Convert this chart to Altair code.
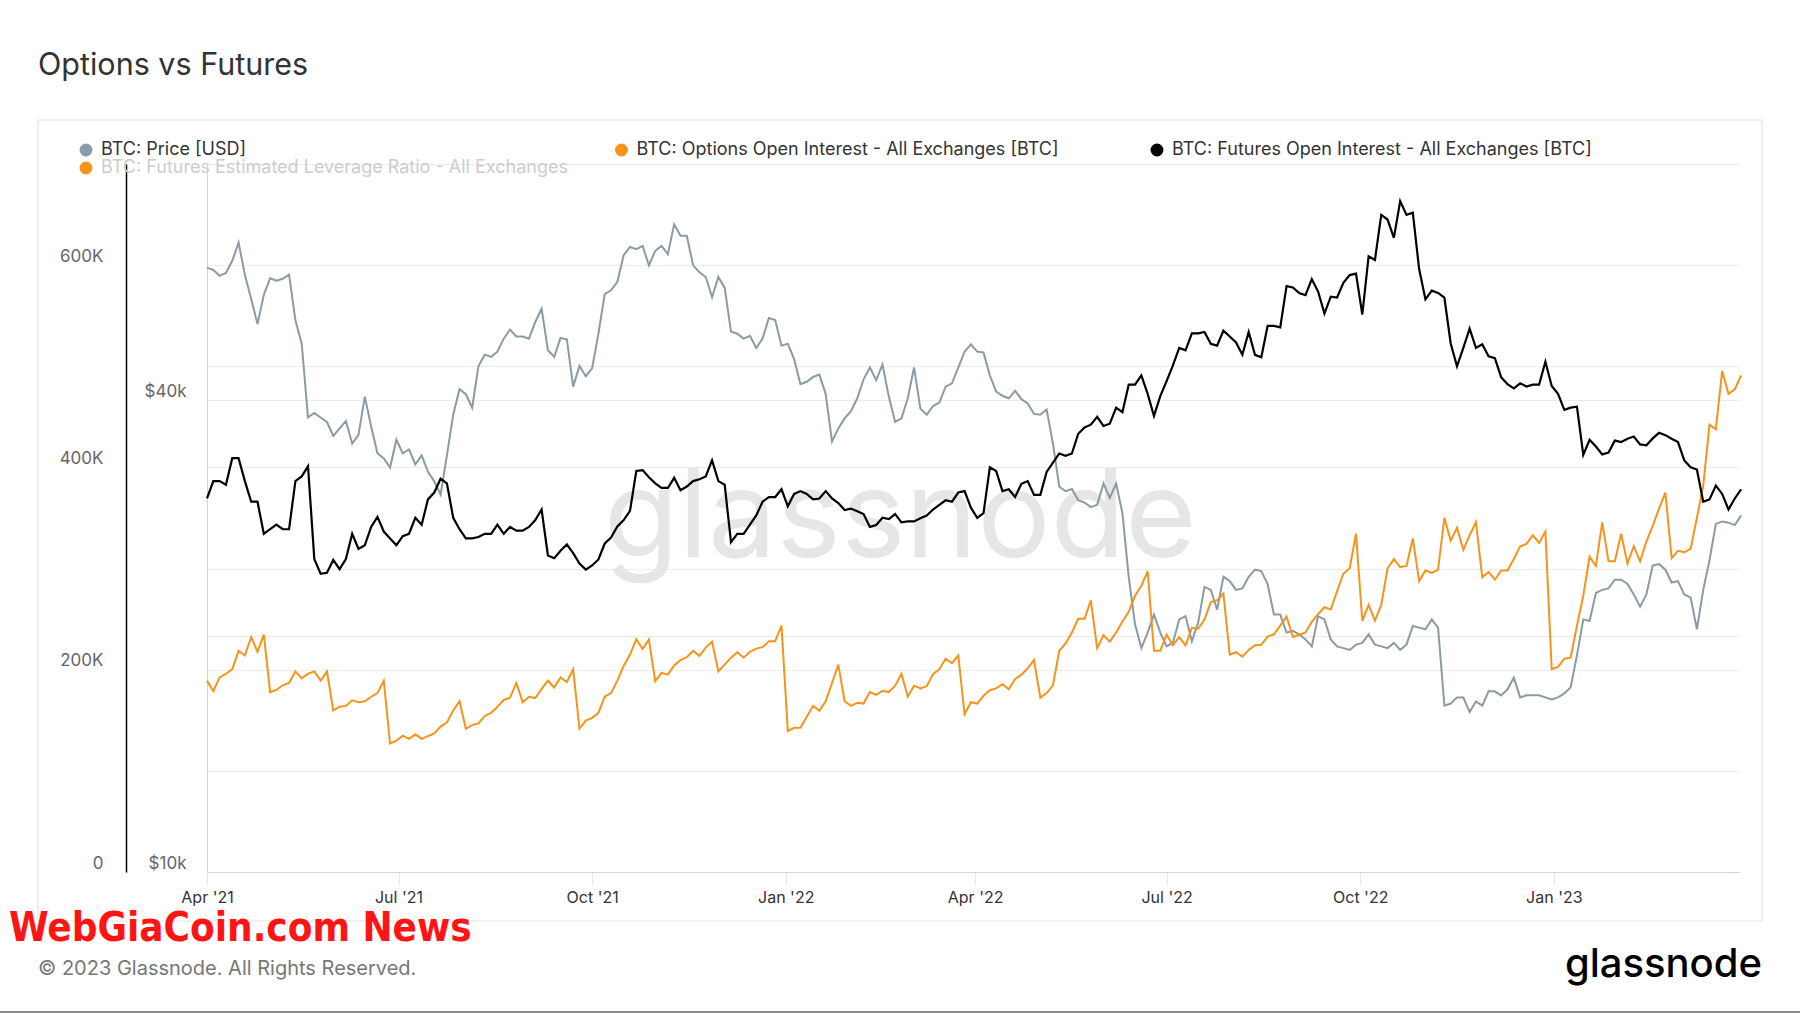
import altair as alt
import pandas as pd

# ---------------- data (one value every 3 days from 2021-04-01) -------------
START_DATE = "2021-04-01"
STEP = "3D"

# BTC price, thousands of USD
price_usd_k = [
    59.0, 58.6, 57.6, 58.1, 60.2, 63.5, 57.8, 53.8, 50.0, 54.5, 57.2, 56.8, 57.1, 57.8, 50.6, 47.2,
    38.0, 38.5, 38.0, 37.5, 36.0, 36.8, 37.6, 35.2, 36.1, 40.4, 37.0, 34.2, 33.7, 32.8, 35.6, 34.2,
    34.6, 33.1, 34.0, 32.4, 31.5, 30.3, 34.0, 38.3, 41.3, 40.7, 39.1, 44.2, 45.7, 45.4, 46.1, 47.9,
    49.2, 48.2, 48.2, 47.9,
    50.3, 52.3, 46.3, 45.4, 48.0, 47.8, 41.6, 44.2, 42.9, 43.9, 48.6, 54.6, 55.2, 56.6, 61.2, 62.7,
    62.3, 62.9, 59.4, 62.0, 62.9, 61.4, 67.0, 64.8, 64.8, 59.4, 58.2, 57.4, 54.1, 57.4, 55.6, 48.9,
    48.6, 47.9, 48.3, 46.6, 47.9, 50.9, 50.6, 46.9, 47.2, 45.1, 41.9, 42.2, 42.8, 43.1, 40.7, 35.4,
    36.8,
    37.9, 38.7, 40.2, 42.5, 44.0, 42.4, 44.4, 40.4, 37.5, 37.9, 40.2, 44.0, 39.0, 38.3, 39.3, 39.7,
    41.6, 42.0, 44.0, 46.1, 47.1, 46.1, 46.0, 43.0, 41.0, 40.5, 40.2, 41.1, 40.1, 39.6, 38.4, 38.3,
    38.9, 35.2, 31.0, 30.6, 30.8, 29.8, 29.6, 29.2, 29.4, 31.3, 30.0, 31.3, 28.7, 23.8, 20.7, 19.3,
    20.2,
    21.3, 20.2, 19.4, 19.6, 21.0, 21.2, 19.7, 20.8, 23.1, 22.9, 21.6, 23.8, 23.5, 22.9, 23.0, 23.8,
    24.3, 24.2, 23.3, 21.3, 21.3, 20.2, 20.3, 20.1, 19.8, 19.4, 21.2, 21.0, 19.8, 19.4, 19.3, 19.2,
    19.5, 19.6, 20.1, 19.5, 19.4, 19.3, 19.6, 19.2, 19.5, 20.6, 20.5, 20.4, 21.0, 20.5, 16.3, 16.4,
    16.7,
    16.7, 16.0, 16.5, 16.3, 17.0, 17.0, 16.8, 17.1, 17.7, 16.7, 16.8, 16.8, 16.8, 16.7, 16.6, 16.7,
    16.9, 17.2, 18.9, 21.0, 20.9, 22.7, 22.9, 23.0, 23.6, 23.6, 23.3, 22.6, 21.8, 22.6, 24.6, 24.7,
    24.3, 23.4, 23.5, 22.6, 22.4, 20.4, 22.9, 25.0, 27.8, 28.0, 27.9, 27.7, 28.5,
]

# Options open interest, thousands of BTC
options_oi_k = [
    189.2, 178.8, 192.4, 196.0, 200.5, 218.7, 214.1, 232.3, 217.8, 234.6, 177.9, 180.1, 184.6, 186.9, 198.3, 191.5,
    196.0, 198.3, 189.2, 198.3, 159.7, 163.3, 164.2, 169.7, 167.9, 168.8, 173.3, 176.9, 189.2, 127.0, 129.8, 134.8,
    131.6, 136.1, 131.6, 134.3, 137.0, 143.8, 147.9, 159.7, 168.8, 141.6, 145.2, 147.0, 154.3, 157.4, 163.3, 170.1,
    172.4, 186.9, 167.9, 173.3,
    172.0, 181.0, 189.2, 182.4, 192.4, 187.8, 200.5, 141.6, 149.7, 152.4, 157.4, 173.3, 176.9, 189.2, 203.7, 215.0,
    230.0, 220.5, 230.0, 188.7, 196.9, 195.1, 204.2, 209.6, 212.3, 218.7, 213.7, 221.9, 227.8, 198.3, 205.1, 211.9,
    217.3, 211.9, 217.8, 220.9, 222.3, 228.2, 228.2, 243.6, 139.3, 142.5, 142.5, 153.4, 164.2, 159.3, 168.8, 186.9,
    205.1,
    168.8, 164.2, 167.4, 166.5, 177.9, 175.1, 179.2, 177.9, 184.2, 196.0, 173.3, 184.2, 181.5, 183.8, 195.5, 200.5,
    211.0, 206.4, 214.1, 156.1, 167.9, 166.5, 174.2, 179.7, 181.5, 185.6, 180.6, 190.6, 195.1, 201.4, 209.6, 172.4,
    176.9, 184.6, 218.7, 226.0, 236.8, 250.4, 250.4, 268.6, 221.4, 234.1, 227.8, 236.8, 247.7, 257.2, 273.1, 283.1,
    297.2,
    218.7, 218.7, 234.6, 224.1, 232.3, 224.1, 241.4, 240.5, 249.5, 266.8, 268.6, 275.4, 215.0, 217.3, 212.8, 219.6,
    224.1, 224.6, 232.7, 235.0, 243.6, 252.7, 232.3, 234.6, 236.8, 247.3, 255.0, 261.8, 259.5, 277.7, 294.9, 300.3,
    334.4, 248.2, 264.1, 248.6, 264.1, 300.3, 309.4, 301.3, 302.6, 329.8, 287.6, 298.1, 295.8, 299.0, 350.2, 327.6,
    340.3,
    318.5, 333.0, 345.7, 291.3, 296.7, 289.0, 298.1, 298.1, 309.4, 322.1, 324.4, 333.0, 325.3, 336.6, 200.7, 202.8,
    211.0, 211.9, 243.6, 273.1, 311.7, 302.6, 345.7, 307.2, 307.2, 334.4, 304.9, 322.1, 307.2, 326.7, 342.1, 359.3,
    375.2, 310.3, 317.6, 316.2, 319.4, 350.2, 382.0, 442.3, 437.8, 495.4, 472.7, 477.3, 490.9,
]

# Futures open interest, thousands of BTC
futures_oi_k = [
    369.3, 386.5, 386.5, 382.9, 409.2, 409.2, 386.5, 366.1, 366.1, 334.4, 338.9, 343.4, 338.9, 338.9, 386.5, 391.1,
    401.1, 309.4, 294.9, 295.8, 308.5, 299.4, 309.4, 334.4, 319.4, 323.0, 341.2, 351.1, 336.6, 329.8, 323.0, 332.1,
    334.4, 350.2, 343.4, 368.4, 375.2, 388.8, 384.3, 350.2, 338.9, 329.8, 329.8, 331.2, 334.4, 334.4, 343.4, 334.4,
    341.2, 337.5, 337.5, 341.2,
    348.0, 358.4, 313.0, 310.3, 317.6, 323.9, 315.3, 304.9, 299.0, 303.1, 309.0, 324.8, 330.7, 341.6, 348.0, 357.0,
    396.5, 397.4, 390.2, 384.3, 379.7, 379.7, 389.7, 377.5, 381.1, 386.5, 388.3, 391.1, 406.9, 386.5, 382.9, 326.2,
    334.4, 334.4, 343.4, 352.5, 366.1, 370.7, 370.7, 378.4, 361.6, 373.8, 376.6, 373.8, 368.4, 369.3, 376.6, 369.3,
    364.8,
    357.9, 359.3, 356.6, 353.9, 341.2, 343.0, 350.2, 348.9, 353.9, 345.7, 346.6, 346.6, 349.8, 352.5, 358.4, 362.9,
    367.5, 366.1, 375.2, 376.6, 360.2, 350.2, 354.8, 400.2, 396.5, 376.6, 378.4, 370.7, 383.8, 386.5, 372.9, 372.9,
    395.6, 404.7, 413.8, 411.5, 413.8, 433.3, 439.6, 442.3, 450.0, 441.0, 443.2, 459.1, 454.6, 481.8, 481.8, 490.9,
    472.7,
    450.9, 470.5, 485.4, 500.9, 518.1, 515.8, 532.6, 532.6, 533.9, 522.2, 520.4, 535.3, 529.4, 523.5, 511.3, 533.9,
    511.3, 509.0, 539.9, 539.9, 538.5, 579.3, 578.0, 572.5, 570.3, 586.1, 573.9, 552.1, 568.9, 568.0, 582.5, 590.2,
    591.6, 551.2, 608.8, 605.2, 649.7, 645.1, 627.0, 663.3, 649.7, 651.9, 596.1, 566.2, 574.8, 572.5, 568.0, 522.6,
    499.9,
    518.1, 537.2, 518.1, 521.7, 509.9, 508.1, 489.1, 482.3, 478.2, 483.2, 480.0, 481.8, 481.8, 504.5, 480.5, 472.7,
    456.9, 459.1, 460.0, 412.4, 427.4, 420.6, 412.9, 414.7, 426.5, 425.1, 428.3, 430.5, 422.8, 421.9, 428.7, 434.2,
    431.9, 428.3, 425.1, 406.9, 400.1, 397.9, 366.1, 368.4, 382.0, 373.8, 358.4, 369.3, 378.4,
]

SERIES = [
    "BTC: Price [USD]",
    "BTC: Options Open Interest - All Exchanges [BTC]",
    "BTC: Futures Open Interest - All Exchanges [BTC]",
    "BTC: Futures Estimated Leverage Ratio - All Exchanges",
]
COLORS = ["#8b9ba4", "#f7931a", "#000000", "#f7931a"]

OI_TICKS = [0, 100, 200, 300, 400, 500, 600, 700]
PRICE_TICKS = [10, 20, 40, 80]
X_TICKS = [(2021, 4), (2021, 7), (2021, 10), (2022, 1), (2022, 4), (2022, 7), (2022, 10), (2023, 1)]

TITLE = "Options vs Futures"
FOOTER = "© 2023 Glassnode. All Rights Reserved."
LOGO = "glassnode"
OVERLAY = "WebGiaCoin.com News"

# ---------------- table -------------------------------------------------------------------------
dates = pd.date_range(START_DATE, periods=len(price_usd_k), freq=STEP)
df = pd.concat(
    [
        pd.DataFrame({"date": dates, "value": price_usd_k, "series": SERIES[0]}),
        pd.DataFrame({"date": dates, "value": options_oi_k, "series": SERIES[1]}),
        pd.DataFrame({"date": dates, "value": futures_oi_k, "series": SERIES[2]}),
    ],
    ignore_index=True,
)

FONT = "Inter"
W, H = 1532, 708
PAD_L, PAD_T, PAD_R, PAD_B = 207, 164, 61, 141

x_enc = alt.X(
    "date:T",
    scale=alt.Scale(
        domain=[alt.DateTime(year=2021, month=4, date=1), alt.DateTime(year=2023, month=3, date=30)],
        nice=False,
    ),
    axis=alt.Axis(
        title=None,
        values=[alt.DateTime(year=y, month=m, date=1) for y, m in X_TICKS],
        format="%b '%y",
        labelFont=FONT,
        labelFontSize=16,
        labelColor="#333333",
        labelFlush=False,
        labelPadding=5,
        tickColor="#e6e6e6",
        tickSize=12,
        domainColor="#ccd6eb",
        grid=False,
    ),
)

color_scale = alt.Scale(domain=SERIES, range=COLORS)
legend = alt.Legend(
    title=None,
    orient="none",
    legendX=-130,
    legendY=-23,
    direction="horizontal",
    columns=3,
    gridAlign="all",
    columnPadding=44.5,
    rowPadding=-2,
    padding=0,
    symbolType="circle",
    symbolSize=130,
    symbolOpacity=1,
    labelFont=FONT,
    labelFontSize=18,
    labelOffset=6,
    labelLimit=800,
    labelColor={"expr": "datum.label === '" + SERIES[3] + "' ? '#cccccc' : '#333333'"},
)
color_enc = alt.Color("series:N", scale=color_scale, legend=legend)

price_axis = alt.Axis(
    orient="left",
    offset=0,
    title=None,
    values=PRICE_TICKS,
    labelExpr="datum.value == 10 ? '$10k' : (datum.value == 40 ? '$40k' : '')",
    labelFont=FONT,
    labelFontSize=17,
    labelColor="#666666",
    labelPadding=21,
    labelBaseline="middle",
    labelOffset=-9,
    ticks=False,
    domainColor="#ccd6eb",
    grid=True,
    gridColor="#ececec",
)
oi_axis = alt.Axis(
    orient="left",
    offset=81,
    title=None,
    values=OI_TICKS,
    labelExpr="datum.value % 200 == 0 ? (datum.value == 0 ? '0' : datum.value + 'K') : ''",
    labelFont=FONT,
    labelFontSize=17,
    labelColor="#666666",
    labelPadding=23,
    labelBaseline="middle",
    labelOffset=-9,
    ticks=False,
    domainColor="#000000",
    domainWidth=1.5,
    grid=True,
    gridColor="#ececec",
)

base = alt.Chart(df)

# legend carrier (first colour layer, so the legend uses filled circle symbols); no rows pass its filter
legend_layer = (
    base.transform_filter("false")
    .mark_circle(opacity=1, strokeWidth=0)
    .encode(color=color_enc)
)

price_line = (
    base.transform_filter(alt.datum.series == SERIES[0])
    .mark_line(strokeWidth=2)
    .encode(
        x=x_enc,
        y=alt.Y("value:Q", scale=alt.Scale(type="log", domain=[10, 80], nice=False), axis=price_axis),
        color=color_enc,
    )
)
oi_scale = alt.Scale(domain=[0, 700], nice=False, zero=True)
options_line = (
    base.transform_filter(alt.datum.series == SERIES[1])
    .mark_line(strokeWidth=2)
    .encode(x=x_enc, y=alt.Y("value:Q", scale=oi_scale, axis=oi_axis), color=color_enc)
)
futures_line = (
    base.transform_filter(alt.datum.series == SERIES[2])
    .mark_line(strokeWidth=2.2)
    .encode(x=x_enc, y=alt.Y("value:Q", scale=oi_scale, axis=oi_axis), color=color_enc)
)
oi_layer = alt.layer(options_line, futures_line)

one = pd.DataFrame({"t": [TITLE]})


def px(x):
    return alt.value(x - PAD_L)


def py(y):
    return alt.value(y - PAD_T)


card = alt.Chart(one).mark_rect(fill=None, stroke="#e3e3e3", strokeWidth=1.2).encode(
    x=px(38), x2=px(1762), y=py(120), y2=py(921)
)
watermark = alt.Chart(pd.DataFrame({"t": [LOGO]})).mark_text(
    font=FONT, fontSize=122, color="#e6e6e6", align="center", baseline="alphabetic"
).encode(text="t:N", x=px(900), y=py(557))
title = alt.Chart(one).mark_text(
    font=FONT, fontSize=30.5, color="#333333", align="left", baseline="middle"
).encode(text="t:N", x=px(38), y=py(66))
footer = alt.Chart(pd.DataFrame({"t": [FOOTER]})).mark_text(
    font=FONT, fontSize=20, color="#777777", align="left", baseline="middle"
).encode(text="t:N", x=px(38), y=py(969))
logo = alt.Chart(pd.DataFrame({"t": [LOGO]})).mark_text(
    font=FONT, fontSize=40, fontWeight=500, color="#000000", align="right", baseline="middle"
).encode(text="t:N", x=px(1762), y=py(965))
overlay = alt.Chart(pd.DataFrame({"t": [OVERLAY]})).mark_text(
    font="DejaVu Sans Condensed, Liberation Sans Narrow, DejaVu Sans, sans-serif",
    fontSize=40,
    fontWeight="bold",
    color="#ff1414",
    align="left",
    baseline="middle",
).encode(text="t:N", x=px(9), y=py(929))
bottom_rule = alt.Chart(one).mark_rule(color="#8a8a8a", strokeWidth=2).encode(
    x=px(0), x2=px(1800), y=py(1012)
)

chart = (
    alt.layer(card, watermark, legend_layer, price_line, oi_layer, title, footer, logo, overlay, bottom_rule)
    .resolve_scale(y="independent")
    .properties(
        width=W,
        height=H,
        autosize=alt.AutoSizeParams(type="none"),
        padding={"left": PAD_L, "top": PAD_T, "right": PAD_R, "bottom": PAD_B},
        background="white",
    )
    .configure_view(stroke=None)
)

chart.save("out.html", embed_options={"renderer": "svg", "actions": False})
